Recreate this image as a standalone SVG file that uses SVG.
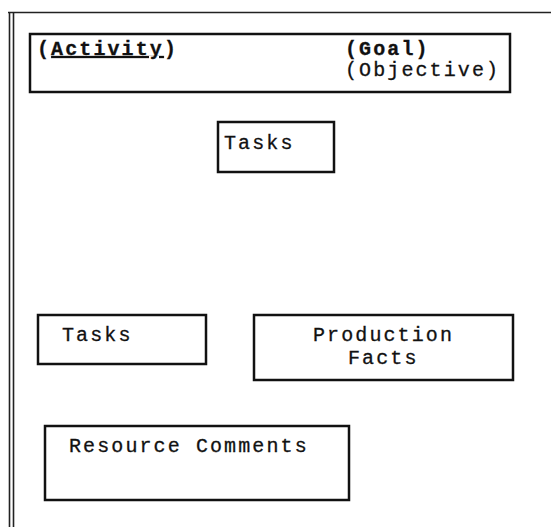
<svg xmlns="http://www.w3.org/2000/svg" width="551" height="527" viewBox="0 0 551 527">
<style>
.box{fill:none;stroke:#111;stroke-width:2.5}
.frame{fill:none;stroke:#222;stroke-width:1.6}
.t{font-family:"Liberation Mono","Courier New",monospace;font-size:20px;letter-spacing:2.1px;fill:#111;stroke:#111;stroke-width:0.3}
.b{font-weight:bold}
</style>
<rect width="551" height="527" fill="#fff"/>
<g id="frame">
<line class="frame" x1="8" y1="12.5" x2="551" y2="12.5" stroke-width="2.2"/>
<line class="frame" x1="9.5" y1="12" x2="9.5" y2="527"/>
<line class="frame" x1="13.5" y1="12" x2="13.5" y2="527"/>
</g>
<g id="header">
<rect class="box" x="30" y="34" width="480" height="58"/>
<text class="t b" x="37" y="55">(<tspan text-decoration="underline">Activity</tspan>)</text>
<text class="t b" x="345" y="55">(Goal)</text>
<text class="t" x="345" y="76">(Objective)</text>
</g>
<g id="tasks-top">
<rect class="box" x="218" y="122" width="116" height="50"/>
<text class="t" x="224" y="149">Tasks</text>
</g>
<g id="tasks-left">
<rect class="box" x="38" y="315" width="168" height="49"/>
<text class="t" x="62" y="341">Tasks</text>
</g>
<g id="production-facts">
<rect class="box" x="254" y="315" width="259" height="65"/>
<text class="t" x="313" y="341">Production</text>
<text class="t" x="348" y="364">Facts</text>
</g>
<g id="resource-comments">
<rect class="box" x="45" y="426" width="304" height="74"/>
<text class="t" x="69" y="452">Resource Comments</text>
</g>
<g id="connectors"></g>
</svg>
